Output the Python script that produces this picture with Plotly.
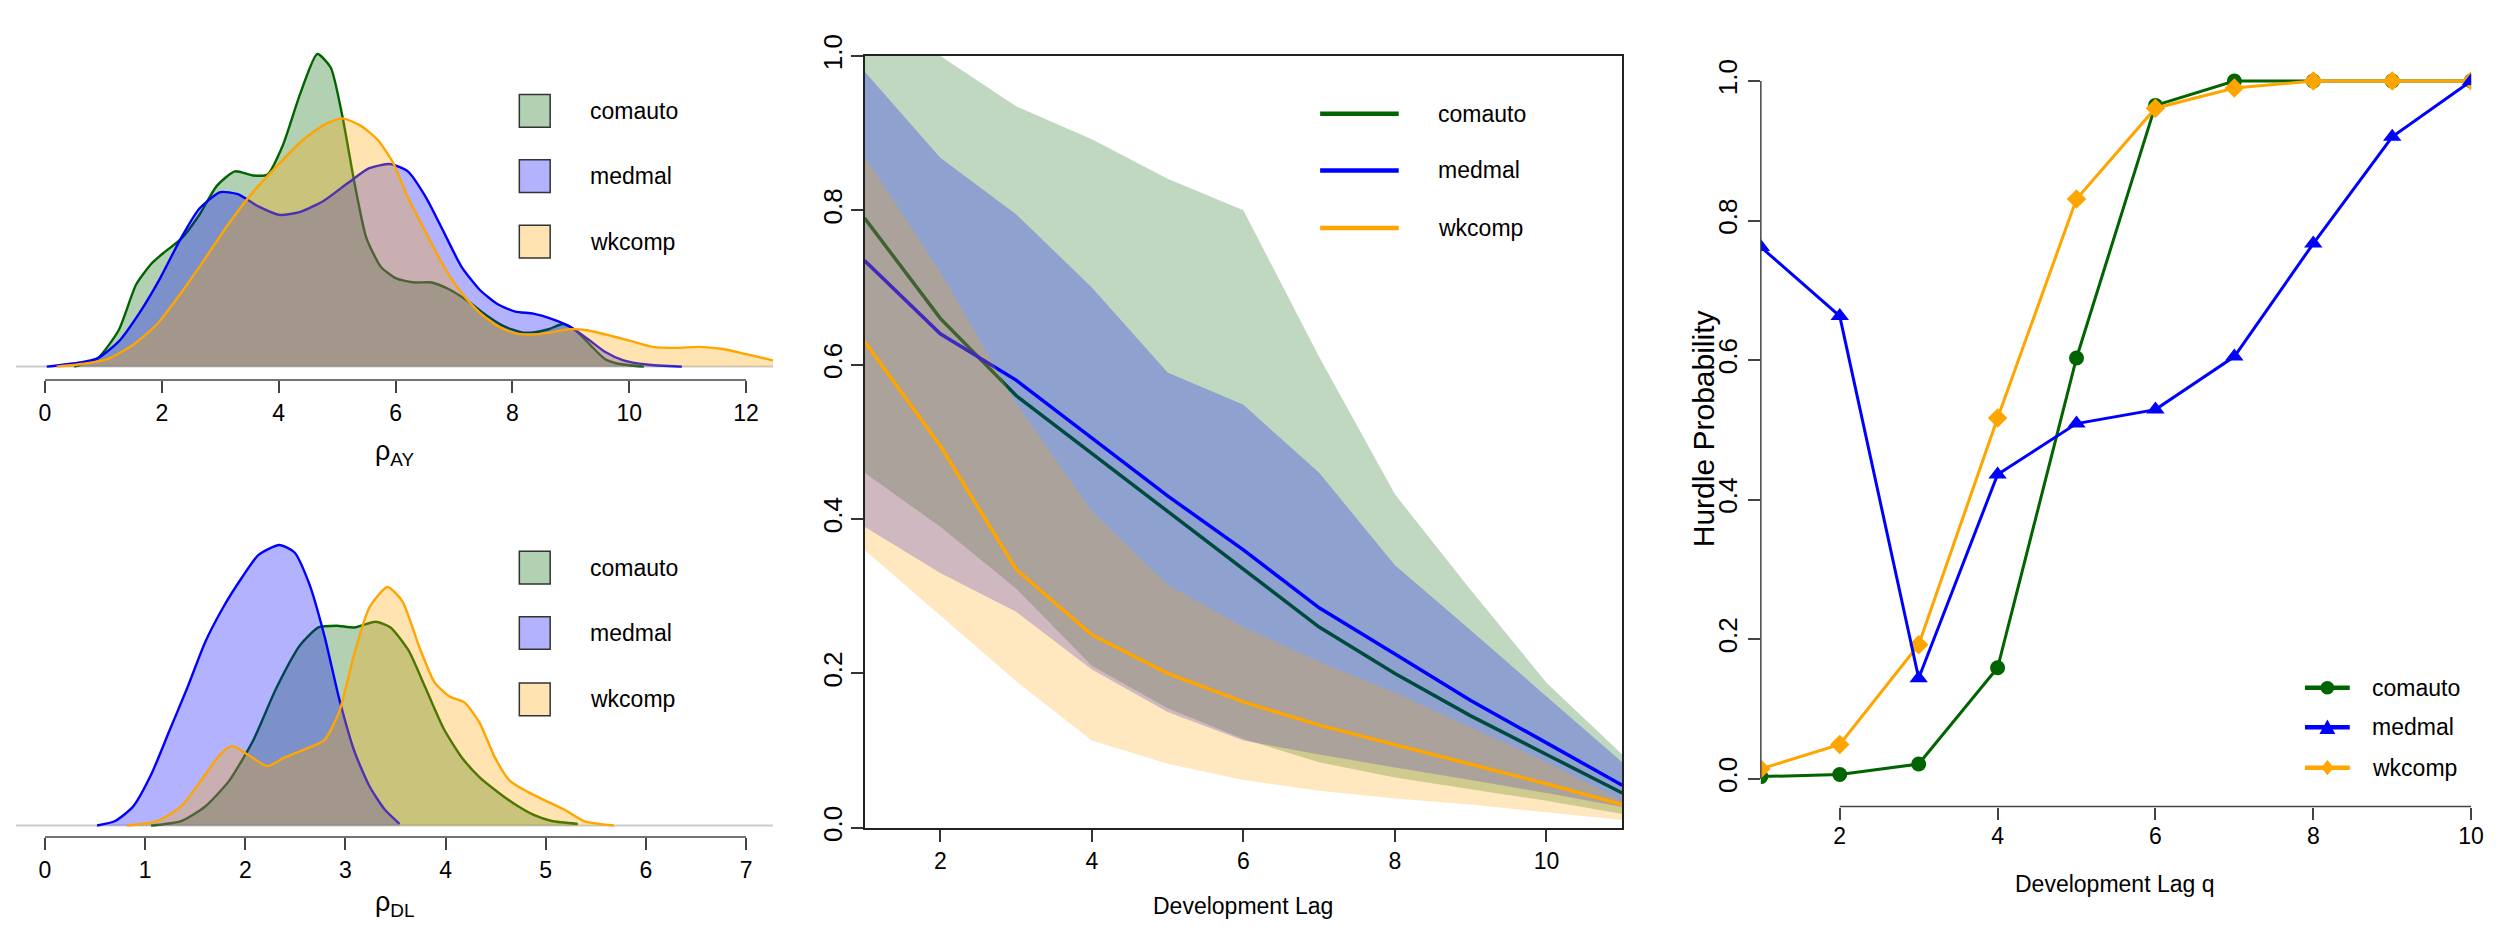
import plotly.graph_objects as go

W, H = 2500, 941
def fx(px): return px / W
def fy(py): return 1 - py / H

FONT = "Liberation Sans, Arial, sans-serif"

C_GREEN = "#006400"
C_BLUE = "#0000FF"
C_ORANGE = "#FFA500"
series = ["comauto", "medmal", "wkcomp"]

# ---------------- data: density of rho_AY ----------------
ay_comauto_x = [0.5, 0.9, 1.26, 1.56, 1.82, 2.04, 2.33, 2.64, 2.94, 3.25, 3.56, 3.81, 4.07, 4.37, 4.66, 4.89, 5.09, 5.29, 5.5, 5.75, 6.01, 6.32, 6.62, 6.93, 7.24, 7.54, 7.85, 8.16, 8.36, 8.62, 8.87, 9.08, 9.33, 9.59, 9.79, 10.25]
ay_comauto_d = [0, .008, .035, .079, .099, .110, .123, .146, .174, .188, .184, .185, .213, .263, .301, .288, .241, .179, .124, .096, .085, .081, .081, .074, .063, .050, .039, .033, .033, .036, .041, .035, .021, .007, .003, 0]
ay_medmal_x = [0.03, 0.6, 0.9, 1.26, 1.62, 1.97, 2.33, 2.64, 3.0, 3.3, 3.66, 4.02, 4.37, 4.78, 5.19, 5.55, 5.91, 6.21, 6.52, 6.83, 7.13, 7.44, 7.75, 8.05, 8.36, 8.67, 8.97, 9.28, 9.59, 9.9, 10.3, 10.9]
ay_medmal_d = [0, .004, .008, .024, .052, .085, .124, .152, .168, .166, .154, .146, .149, .160, .177, .191, .195, .188, .163, .129, .096, .074, .060, .053, .051, .046, .039, .027, .014, .006, .002, 0]
ay_wkcomp_x = [0.2, 0.7, 1.1, 1.51, 1.92, 2.33, 2.74, 3.15, 3.56, 3.97, 4.37, 4.78, 5.09, 5.4, 5.7, 5.96, 6.21, 6.52, 6.83, 7.13, 7.44, 7.75, 8.05, 8.36, 8.67, 8.97, 9.28, 9.59, 10.0, 10.4, 10.8, 11.2, 11.6, 12.0, 12.46]
ay_wkcomp_d = [0, .003, .008, .021, .041, .071, .104, .138, .168, .193, .216, .233, .239, .232, .218, .196, .163, .129, .096, .071, .052, .039, .032, .031, .033, .036, .035, .031, .025, .019, .018, .019, .017, .012, .006]

# ---------------- data: density of rho_DL ----------------
dl_comauto_x = [1.06, 1.36, 1.6, 1.84, 2.08, 2.31, 2.55, 2.73, 2.91, 3.09, 3.3, 3.45, 3.63, 3.8, 3.98, 4.16, 4.34, 4.52, 4.7, 4.88, 5.06, 5.32]
dl_comauto_d = [0, .011, .047, .111, .211, .340, .447, .490, .494, .490, .504, .490, .433, .340, .240, .169, .119, .083, .051, .026, .011, .004]
dl_medmal_x = [0.52, 0.7, 0.88, 1.06, 1.24, 1.42, 1.6, 1.78, 1.96, 2.13, 2.34, 2.49, 2.64, 2.79, 2.94, 3.09, 3.24, 3.39, 3.54]
dl_medmal_d = [0, .011, .047, .126, .233, .340, .454, .540, .611, .669, .694, .676, .597, .469, .311, .183, .097, .040, .004]
dl_wkcomp_x = [0.82, 1.12, 1.36, 1.6, 1.75, 1.87, 2.02, 2.22, 2.4, 2.61, 2.79, 2.94, 3.09, 3.24, 3.42, 3.57, 3.74, 3.89, 4.04, 4.19, 4.34, 4.49, 4.64, 4.82, 5.0, 5.18, 5.38, 5.68]
dl_wkcomp_d = [0, .011, .047, .126, .176, .197, .176, .147, .169, .190, .211, .283, .426, .540, .590, .554, .440, .354, .319, .304, .254, .169, .111, .083, .061, .040, .011, 0]

# ---------------- data: middle panel (bands + medians) ----------------
lag = [1, 2, 3, 4, 5, 6, 7, 8, 9, 10, 11]
comauto_mid = [0.79, 0.66, 0.56, 0.485, 0.41, 0.335, 0.26, 0.20, 0.145, 0.095, 0.045]
comauto_lo = [0.46, 0.39, 0.31, 0.21, 0.155, 0.115, 0.085, 0.065, 0.05, 0.035, 0.018]
comauto_hi = [1.10, 1.0, 0.935, 0.892, 0.841, 0.80, 0.61, 0.432, 0.308, 0.188, 0.095]
medmal_mid = [0.735, 0.64, 0.58, 0.505, 0.43, 0.36, 0.285, 0.225, 0.165, 0.11, 0.055]
medmal_lo = [0.39, 0.33, 0.28, 0.205, 0.15, 0.113, 0.095, 0.078, 0.062, 0.045, 0.027]
medmal_hi = [0.98, 0.868, 0.795, 0.70, 0.59, 0.548, 0.46, 0.34, 0.256, 0.17, 0.085]
wkcomp_mid = [0.63, 0.495, 0.335, 0.25, 0.20, 0.163, 0.133, 0.108, 0.083, 0.057, 0.03]
wkcomp_lo = [0.36, 0.275, 0.19, 0.113, 0.083, 0.062, 0.048, 0.038, 0.03, 0.02, 0.01]
wkcomp_hi = [0.87, 0.72, 0.55, 0.41, 0.315, 0.26, 0.215, 0.175, 0.13, 0.085, 0.035]

# ---------------- data: right panel (hurdle probability) ----------------
q = [1, 2, 3, 4, 5, 6, 7, 8, 9, 10]
comauto_hp = [0.003, 0.006, 0.021, 0.159, 0.603, 0.965, 1.0, 1.0, 1.0, 1.0]
medmal_hp = [0.762, 0.663, 0.144, 0.436, 0.509, 0.529, 0.605, 0.767, 0.92, 1.0]
wkcomp_hp = [0.014, 0.049, 0.192, 0.517, 0.831, 0.961, 0.99, 1.0, 1.0, 1.0]

# tick labels
ay_ticks = [0, 2, 4, 6, 8, 10, 12]
dl_ticks = [0, 1, 2, 3, 4, 5, 6, 7]
lag_ticks = [2, 4, 6, 8, 10]
prob_ticks = [0, 0.2, 0.4, 0.6, 0.8, 1.0]
prob_ticktext = ["0.0", "0.2", "0.4", "0.6", "0.8", "1.0"]

fig = go.Figure()

def rgba(hexc, a):
    h = hexc.lstrip("#")
    r, g, b = int(h[0:2], 16), int(h[2:4], 16), int(h[4:6], 16)
    return f"rgba({r},{g},{b},{a})"

colors = [C_GREEN, C_BLUE, C_ORANGE]

# density panels
for (xs, ds, col) in [(ay_comauto_x, ay_comauto_d, C_GREEN), (ay_medmal_x, ay_medmal_d, C_BLUE), (ay_wkcomp_x, ay_wkcomp_d, C_ORANGE)]:
    fig.add_trace(go.Scatter(x=xs, y=ds, mode="lines", fill="tozeroy", fillcolor=rgba(col, 0.3),
                             line=dict(color=col, width=2.4, shape="spline", smoothing=0.6),
                             xaxis="x", yaxis="y", showlegend=False, hoverinfo="skip"))
for (xs, ds, col) in [(dl_comauto_x, dl_comauto_d, C_GREEN), (dl_medmal_x, dl_medmal_d, C_BLUE), (dl_wkcomp_x, dl_wkcomp_d, C_ORANGE)]:
    fig.add_trace(go.Scatter(x=xs, y=ds, mode="lines", fill="tozeroy", fillcolor=rgba(col, 0.3),
                             line=dict(color=col, width=2.4, shape="spline", smoothing=0.6),
                             xaxis="x2", yaxis="y2", showlegend=False, hoverinfo="skip"))

# middle bands
for (lo, hi, mid, col) in [(comauto_lo, comauto_hi, comauto_mid, C_GREEN), (medmal_lo, medmal_hi, medmal_mid, C_BLUE), (wkcomp_lo, wkcomp_hi, wkcomp_mid, C_ORANGE)]:
    fig.add_trace(go.Scatter(x=lag + lag[::-1], y=hi + lo[::-1], mode="none", fill="toself",
                             fillcolor=rgba(col, 0.25), xaxis="x3", yaxis="y3", showlegend=False, hoverinfo="skip"))
    fig.add_trace(go.Scatter(x=lag, y=mid, mode="lines", line=dict(color=col, width=3.5),
                             xaxis="x3", yaxis="y3", showlegend=False, hoverinfo="skip"))

# right panel
for (ys, col, sym, size) in [(comauto_hp, C_GREEN, "circle", 15), (wkcomp_hp, C_ORANGE, "diamond", 15), (medmal_hp, C_BLUE, "triangle-up", 16)]:
    fig.add_trace(go.Scatter(x=q, y=ys, mode="lines+markers", line=dict(color=col, width=3),
                             marker=dict(symbol=sym, size=size, color=col, line=dict(width=0)),
                             xaxis="x4", yaxis="y4", showlegend=False, hoverinfo="skip"))

# ---------------- layout geometry (pixels) ----------------
TOP_BASE, TOP_AXIS, TOP_TOP = 350.0, 364.0, 12.0
TOP_PX_PER_D = 1080.0
BOT_BASE, BOT_AXIS, BOT_TOP = 827.1, 839.1, 470.0
BOT_PX_PER_D = 420.2
LX0, LX1 = 8.0, 769.0
AY0PX, AYPU = 37.2, 58.73
DL0PX, DLPU = 37.2, 100.67

tickfont_h = dict(family=FONT, size=23, color="black")
tickfont_v = dict(family=FONT, size=26, color="black")

common_hidden = dict(showgrid=False, zeroline=False)

fig.update_layout(
    width=W, height=H, margin=dict(l=0, r=0, t=0, b=0),
    paper_bgcolor="white", plot_bgcolor="white", showlegend=False,
    xaxis=dict(domain=[fx(LX0), fx(LX1)], range=[(LX0 - AY0PX) / AYPU, (LX1 - AY0PX) / AYPU],
               tickvals=ay_ticks, ticks="outside", ticklen=12, tickwidth=1.5, tickcolor="#444",
               showline=False, tickfont=tickfont_h, anchor="y", **common_hidden),
    yaxis=dict(domain=[fy(TOP_AXIS), fy(TOP_TOP)],
               range=[-(TOP_AXIS - TOP_BASE) / TOP_PX_PER_D, (TOP_BASE - TOP_TOP) / TOP_PX_PER_D],
               visible=False, anchor="x", **common_hidden),
    xaxis2=dict(domain=[fx(LX0), fx(LX1)], range=[(LX0 - DL0PX) / DLPU, (LX1 - DL0PX) / DLPU],
                tickvals=dl_ticks, ticks="outside", ticklen=12, tickwidth=1.5, tickcolor="#444",
                showline=False, tickfont=tickfont_h, anchor="y2", **common_hidden),
    yaxis2=dict(domain=[fy(BOT_AXIS), fy(BOT_TOP)],
                range=[-(BOT_AXIS - BOT_BASE) / BOT_PX_PER_D, (BOT_BASE - BOT_TOP) / BOT_PX_PER_D],
                visible=False, anchor="x2", **common_hidden),
    xaxis3=dict(domain=[fx(861), fx(1622.7)], range=[1, 11], tickvals=lag_ticks,
                ticks="outside", ticklen=12, tickwidth=1.5, tickcolor="#333",
                showline=True, linecolor="#222", linewidth=1.5, mirror=True,
                tickfont=tickfont_h, anchor="y3", **common_hidden),
    yaxis3=dict(domain=[fy(829.5), fy(27)], range=[0, 1], tickvals=prob_ticks, ticktext=prob_ticktext,
                tickangle=-90, ticks="outside", ticklen=12, tickwidth=1.5, tickcolor="#333",
                showline=True, linecolor="#222", linewidth=1.5, mirror=True, ticklabelstandoff=-2,
                tickfont=tickfont_v, anchor="x3", **common_hidden),
    xaxis4=dict(domain=[fx(1762), fx(2476)], range=[1, 10], tickvals=lag_ticks,
                ticks="outside", ticklen=12, tickwidth=1.5, tickcolor="#444", ticklabelstandoff=-3,
                showline=False, tickfont=tickfont_h, anchor="y4", **common_hidden),
    yaxis4=dict(domain=[fy(807.5), fy(24)], range=[-0.04, 1.04], tickvals=prob_ticks, ticktext=prob_ticktext,
                tickangle=-90, ticks="outside", ticklen=12, tickwidth=1.5, tickcolor="#444",
                showline=False, tickfont=tickfont_v, anchor="x4", **common_hidden),
)

shapes = []
# left axis lines (span first..last tick) and gray baselines
shapes.append(dict(type="line", xref="x", yref="y domain", x0=ay_ticks[0], x1=ay_ticks[-1], y0=0, y1=0,
                   line=dict(color="#444", width=1.5)))
shapes.append(dict(type="line", xref="x2", yref="y2 domain", x0=dl_ticks[0], x1=dl_ticks[-1], y0=0, y1=0,
                   line=dict(color="#444", width=1.5)))
shapes.append(dict(type="line", xref="x domain", yref="y", x0=0, x1=1, y0=0, y1=0,
                   line=dict(color="#cccccc", width=2), layer="below"))
shapes.append(dict(type="line", xref="x2 domain", yref="y2", x0=0, x1=1, y0=0, y1=0,
                   line=dict(color="#cccccc", width=2), layer="below"))
# right panel axis lines
shapes.append(dict(type="line", xref="x4", yref="y4 domain", x0=lag_ticks[0], x1=lag_ticks[-1], y0=0, y1=0,
                   line=dict(color="#444", width=1.5)))
shapes.append(dict(type="line", xref="x4 domain", yref="y4", x0=0, x1=0, y0=prob_ticks[0], y1=prob_ticks[-1],
                   line=dict(color="#444", width=1.5)))

annotations = []

# left legends (filled boxes)
for centers in ([84, 152, 220], [559, 627, 696]):
    for name, col, cy in zip(series, colors, centers):
        shapes.append(dict(type="rect", xref="paper", yref="paper", x0=fx(514), x1=fx(545),
                           y0=fy(cy + 17), y1=fy(cy - 17), fillcolor=rgba(col, 0.3),
                           line=dict(color="#333", width=1.5)))
        annotations.append(dict(text=name, xref="paper", yref="paper", x=fx(583), y=fy(cy),
                                xanchor="left", yanchor="middle", showarrow=False,
                                font=dict(family=FONT, size=23, color="black")))

# middle legend (lines)
for name, col, cy in zip(series, colors, [87, 146, 206]):
    shapes.append(dict(type="line", xref="paper", yref="paper", x0=fx(1319), x1=fx(1398), y0=fy(cy), y1=fy(cy),
                       line=dict(color=col, width=4.5)))
    annotations.append(dict(text=name, xref="paper", yref="paper", x=fx(1435), y=fy(cy),
                            xanchor="left", yanchor="middle", showarrow=False,
                            font=dict(family=FONT, size=23, color="black")))

# right legend (lines + markers)
for name, col, cy, sym in zip(series, colors, [684, 725, 767], ["circle", "triangle", "diamond"]):
    shapes.append(dict(type="line", xref="paper", yref="paper", x0=fx(2309), x1=fx(2354), y0=fy(cy), y1=fy(cy),
                       line=dict(color=col, width=4.5)))
    cx = 2331.5
    r = 7
    if sym == "circle":
        shapes.append(dict(type="circle", xref="paper", yref="paper", x0=fx(cx - r), x1=fx(cx + r),
                           y0=fy(cy + r), y1=fy(cy - r), fillcolor=col, line=dict(width=0)))
    elif sym == "triangle":
        path = f"M {fx(cx - 8)},{fy(cy + 7)} L {fx(cx + 8)},{fy(cy + 7)} L {fx(cx)},{fy(cy - 8)} Z"
        shapes.append(dict(type="path", xref="paper", yref="paper", path=path, fillcolor=col, line=dict(width=0)))
    else:
        path = f"M {fx(cx)},{fy(cy - 8)} L {fx(cx + 6)},{fy(cy)} L {fx(cx)},{fy(cy + 8)} L {fx(cx - 6)},{fy(cy)} Z"
        shapes.append(dict(type="path", xref="paper", yref="paper", path=path, fillcolor=col, line=dict(width=0)))
    annotations.append(dict(text=name, xref="paper", yref="paper", x=fx(2374), y=fy(cy),
                            xanchor="left", yanchor="middle", showarrow=False,
                            font=dict(family=FONT, size=23, color="black")))

# axis titles
annotations.append(dict(text="ρ<sub>AY</sub>", xref="paper", yref="paper", x=fx(389), y=fy(440),
                        xanchor="center", yanchor="middle", showarrow=False,
                        font=dict(family=FONT, size=27, color="black")))
annotations.append(dict(text="ρ<sub>DL</sub>", xref="paper", yref="paper", x=fx(389), y=fy(909),
                        xanchor="center", yanchor="middle", showarrow=False,
                        font=dict(family=FONT, size=27, color="black")))
annotations.append(dict(text="Development Lag", xref="paper", yref="paper", x=fx(1241.5), y=fy(911),
                        xanchor="center", yanchor="middle", showarrow=False,
                        font=dict(family=FONT, size=23, color="black")))
annotations.append(dict(text="Development Lag q", xref="paper", yref="paper", x=fx(2118), y=fy(888),
                        xanchor="center", yanchor="middle", showarrow=False,
                        font=dict(family=FONT, size=23, color="black")))
annotations.append(dict(text="Hurdle Probability", xref="paper", yref="paper", x=fx(1704), y=fy(415),
                        xanchor="center", yanchor="middle", showarrow=False, textangle=-90,
                        font=dict(family=FONT, size=30, color="black")))

fig.update_layout(shapes=shapes, annotations=annotations)
fig.write_html("out.html")
